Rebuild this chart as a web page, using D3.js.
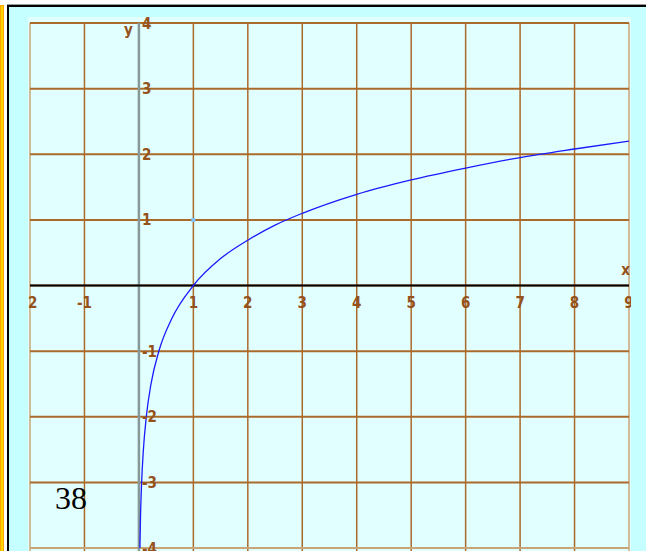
<!DOCTYPE html>
<html>
<head>
<meta charset="utf-8">
<title>y = ln x</title>
<style>
  body {margin: 0; background: #fff;}
  svg {display: block;}
  .tick {font-family: "Liberation Sans Narrow", "DejaVu Sans Condensed", sans-serif; font-size: 15px; font-weight: bold; fill: #94521a;}
</style>
</head>
<body>
<svg id="chart" width="646" height="551"></svg>
<script src="https://cdn.jsdelivr.net/npm/d3@7"></script>
<script>
// values
var xTicks = [-2, -1, 0, 1, 2, 3, 4, 5, 6, 7, 8, 9];
var yTicks = [-4, -3, -2, -1, 0, 1, 2, 3, 4];
var xLabels = ["-2", "-1", "", "1", "2", "3", "4", "5", "6", "7", "8", "9"];
var yLabels = ["-4", "-3", "-2", "-1", "", "1", "2", "3", "4"];
var curveX = [0.018, 0.03, 0.05, 0.08, 0.14, 0.22, 0.37, 0.6, 1, 1.5, 2, 2.5, 3, 4, 5, 6, 7, 8, 9];
var curveY = [-4.0, -3.5, -3.0, -2.53, -1.97, -1.51, -0.99, -0.51, 0, 0.41, 0.69, 0.92, 1.1, 1.39, 1.61, 1.79, 1.95, 2.08, 2.2];
var markers = [[1, 1]];
var pageNumber = "38";

var svg = d3.select("#chart");

var x = d3.scaleLinear().domain([-2, 9]).range([30, 629]);
var y = d3.scaleLinear().domain([-4, 4]).range([548, 23]);

// page frame
svg.append("rect").attr("x", 0).attr("y", 5).attr("width", 4).attr("height", 546).attr("fill", "#ffa500");
svg.append("rect").attr("x", 1).attr("y", 6).attr("width", 2).attr("height", 545).attr("fill", "#ffd400");
svg.append("rect").attr("x", 7).attr("y", 4).attr("width", 639).attr("height", 1).attr("fill", "#999");
svg.append("rect").attr("x", 7).attr("y", 5).attr("width", 639).attr("height", 546).attr("fill", "#000");
svg.append("rect").attr("x", 9).attr("y", 7).attr("width", 637).attr("height", 544).attr("fill", "#c6ffff");

// plot panel
svg.append("clipPath").attr("id", "panel")
   .append("rect").attr("x", 28).attr("y", 17).attr("width", 603).attr("height", 540);
svg.append("rect").attr("x", 28).attr("y", 17).attr("width", 603).attr("height", 540).attr("fill", "#e2ffff");

var g = svg.append("g").attr("clip-path", "url(#panel)");

// grid
g.selectAll(".vgrid").data(xTicks).enter().append("line")
   .attr("x1", function(d){return x(d);}).attr("x2", function(d){return x(d);})
   .attr("y1", y(4)).attr("y2", 560)
   .attr("stroke", function(d, i){return (i == 0 || i == xTicks.length - 1) ? "#c9a678" : "#aa6a2a";})
   .attr("stroke-width", 1.5);
g.selectAll(".hgrid").data(yTicks).enter().append("line")
   .attr("x1", x(-2)).attr("x2", x(9))
   .attr("y1", function(d){return y(d);}).attr("y2", function(d){return y(d);})
   .attr("stroke", function(d, i){return i == 0 ? "#c9a678" : "#aa6a2a";})
   .attr("stroke-width", 2);

// axes
g.append("line").attr("x1", x(0)).attr("x2", x(0)).attr("y1", y(4)).attr("y2", 560)
   .attr("stroke", "#879898").attr("stroke-width", 2.5);
g.append("line").attr("x1", x(-2)).attr("x2", x(9)).attr("y1", y(0)).attr("y2", y(0))
   .attr("stroke", "#000").attr("stroke-width", 2);

// markers
g.selectAll(".mark").data(markers).enter().append("rect")
   .attr("x", function(d){return x(d[0]) - 2;}).attr("y", function(d){return y(d[1]) - 2;})
   .attr("width", 4).attr("height", 4).attr("fill", "#7fc4ff");

// curve
var pts = curveX.map(function(d, i){return [d, curveY[i]];});
g.append("path").datum(pts)
   .attr("d", d3.line().x(function(d){return x(d[0]);}).y(function(d){return y(d[1]);}).curve(d3.curveMonotoneX))
   .attr("fill", "none").attr("stroke", "#1a1aff").attr("stroke-width", 1.3);

// tick labels
g.selectAll(".xl").data(xTicks).enter().append("text").attr("class", "tick")
   .attr("x", function(d){return x(d);}).attr("y", y(0) + 22)
   .attr("text-anchor", "middle")
   .text(function(d, i){return xLabels[i];});
g.selectAll(".yl").data(yTicks).enter().append("text").attr("class", "tick")
   .attr("x", x(0) + 3).attr("y", function(d){return y(d) + 5.5;})
   .attr("text-anchor", "start")
   .text(function(d, i){return yLabels[i];});
g.append("text").attr("class", "tick").attr("x", x(0) - 6).attr("y", 35)
   .attr("text-anchor", "end").text("y");
g.append("text").attr("class", "tick").attr("x", x(9) + 1).attr("y", y(0) - 11)
   .attr("text-anchor", "end").text("x");

// page number
svg.append("text").attr("x", 55).attr("y", 509)
   .attr("font-family", "'Liberation Serif', 'Times New Roman', serif").attr("font-size", 32)
   .attr("fill", "#000").text(pageNumber);
</script>
</body>
</html>
